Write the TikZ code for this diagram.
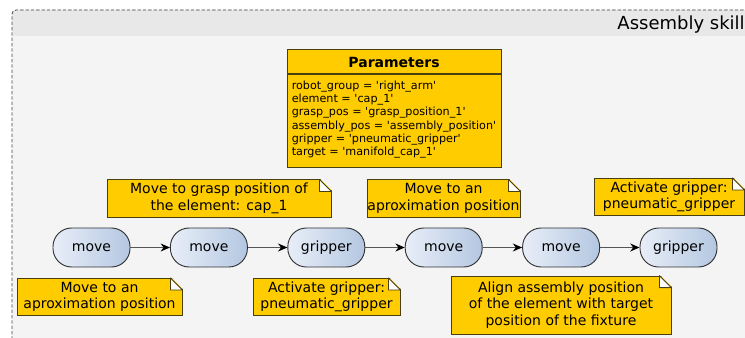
\documentclass[tikz,border=0pt]{standalone}
\usepackage{fontspec}
\setmainfont{DejaVu Sans}
\usetikzlibrary{arrows.meta}

\definecolor{notefill}{HTML}{FFCC00}
\definecolor{notedraw}{HTML}{4A3F10}
\definecolor{pillA}{HTML}{E8EEF8}
\definecolor{pillB}{HTML}{B4C7E1}
\definecolor{skillbg}{HTML}{F4F4F4}
\definecolor{skillhead}{HTML}{E8E8E8}
\definecolor{linkgray}{HTML}{555555}

\newcommand{\sq}{\textquotesingle}

\begin{document}
\begin{tikzpicture}[x=0.75pt, y=-0.75pt, >={Stealth[length=7pt, width=6pt, black]},
	pill/.style={draw=black!80, line width=0.7pt, left color=pillA, right color=pillB, rounded corners=14pt, minimum width=57.75pt, minimum height=29.25pt, inner sep=0pt, font=\fontsize{10.5}{12.4}\selectfont},
	note/.style={draw=notedraw, line width=0.6pt, fill=notefill, align=center, inner xsep=0pt, inner ysep=2pt, minimum height=28pt, font=\fontsize{10.5}{12.4}\selectfont}]
	\useasboundingbox (0,0) rectangle (745,338);
	\clip (0,0) rectangle (745,338);
	
	% Skill frame
	\fill[skillbg, rounded corners=3pt] (12,10) rectangle (790,345);
	\fill[skillhead, rounded corners=3pt] (12,10) -- (790,10) -- (790,36) -- (12,36) -- cycle;
	\draw[black!75, line width=0.6pt, dash pattern=on 2.5pt off 1.5pt, rounded corners=3pt] (12,345) -- (12,10) -- (790,10);
	\node[anchor=base east, inner sep=0pt, font=\fontsize{13.5}{16}\selectfont] (title) at (745,29.5) {Assembly skill};
	
	% Parameters
	\node[draw=notedraw, line width=0.6pt, fill=notefill, minimum width=160.5pt, minimum height=88.5pt] (params) at (394,108) {};
	\node[font=\bfseries\fontsize{10.5}{12}\selectfont] (params-head) at (394,62) {Parameters};
	\draw[notedraw, line width=0.8pt] (params.west |- 0,74) -- (params.east |- 0,74);
	\node[anchor=west, align=left, inner sep=0pt, font=\fontsize{8.4}{10}\selectfont] (params-list) at (291.5,119.5) {robot\_group = \sq right\_arm\sq\\element = \sq cap\_1\sq\\grasp\_pos = \sq grasp\_position\_1\sq\\assembly\_pos = \sq assembly\_position\sq\\gripper = \sq pneumatic\_gripper\sq\\target = \sq manifold\_cap\_1\sq};
	
	% Steps
	\foreach \i/\t in {1/move,2/move,3/gripper,4/move,5/move,6/gripper} {
		\node[pill] (S-\i) at ({91.5+117.4*(\i-1)},247.5) {\t};
	}
	
	% Connections
	\foreach \i in {1,...,5} {
		\pgfmathtruncatemacro\j{\i+1}
		\draw[->, linkgray, line width=0.75pt] (S-\i) -- (S-\j);
	}
	
	% Notes
	\node[note, minimum width=168pt] (N-2) at (219,198.5) {Move to grasp position of\\the element: cap\_1};
	\node[note, minimum width=114.75pt] (N-4) at (443.5,198.5) {Move to an\\aproximation position};
	\node[note, minimum width=112.5pt] (N-6) at (669,197) {Activate gripper:\\pneumatic\_gripper};
	\node[note, minimum width=123.75pt] (N-1) at (99.5,297) {Move to an\\aproximation position};
	\node[note, minimum width=110.25pt] (N-3) at (326.5,297) {Activate gripper:\\pneumatic\_gripper};
	\node[note, minimum width=165pt, minimum height=43.5pt] (N-5) at (561,305) {Align assembly position\\of the element with target\\position of the fixture};
	
	% Folded corners
	\foreach \n in {N-1,N-2,N-3,N-4,N-5,N-6} {
		\fill[skillbg] ([xshift=-9pt,yshift=1pt]\n.north east) -- ([xshift=1pt,yshift=1pt]\n.north east) -- ([xshift=1pt,yshift=-9pt]\n.north east) -- cycle;
		\filldraw[draw=notedraw, line width=0.6pt, fill=white, line join=round] ([xshift=-9pt]\n.north east) -- ([xshift=-9pt,yshift=-9pt]\n.north east) -- ([yshift=-9pt]\n.north east) -- cycle;
	}
\end{tikzpicture}
\end{document}
